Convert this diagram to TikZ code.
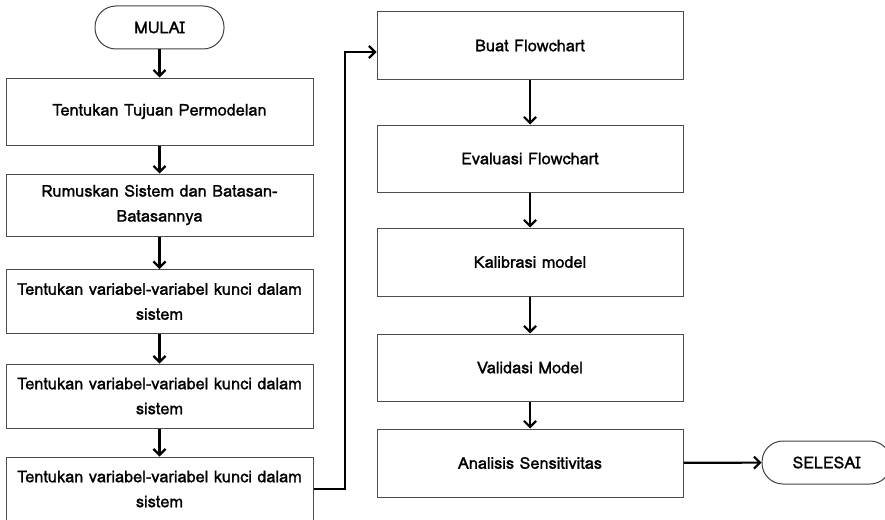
\documentclass[tikz,border=0pt]{standalone}
\usepackage{fontspec}
\setmainfont{Loma}[FakeBold=1.2]
\usetikzlibrary{arrows.meta,calc}
\begin{document}
\begin{tikzpicture}[x=1pt,y=-1pt,
  txt/.style={font=\fontsize{16.3}{25}\selectfont},
  box/.style={txt,draw=black!70,line width=1pt,fill=white,minimum width=307pt,align=center,inner sep=0pt},
  rbox/.style={txt,draw=black!70,line width=1pt,fill=white,minimum width=306pt,minimum height=67pt,inner sep=0pt},
  term/.style={draw=black!75,line width=1pt,rounded corners=21pt,minimum width=129pt,minimum height=43pt,inner sep=0pt,font=\fontsize{16.3}{18}\selectfont},
  arr/.style={line width=2.2pt,-{Straight Barb[length=6pt,width=12pt,line width=2.2pt]}},
  conn/.style={line width=2.2pt,-{Straight Barb[length=6pt,width=12pt,line width=2.2pt]}}
]
\useasboundingbox (0,0) rectangle (885,519);
\clip (0,0) rectangle (885,519);
% left column
\node[term] (mulai) at (159.5,27.5) {MULAI};
\node[box,minimum height=67pt] (b1) at (159.5,111.5) {Tentukan Tujuan Permodelan};
\node[box,minimum height=62pt] (b2) at (159.5,205) {Rumuskan Sistem dan Batasan-\\Batasannya};
\node[box,minimum height=64pt] (b3) at (159.5,301.5) {Tentukan variabel-variabel kunci dalam\\sistem};
\node[box,minimum height=64pt] (b4) at (159.5,396) {Tentukan variabel-variabel kunci dalam\\sistem};
\node[box,minimum height=64pt] (b5) at (159.5,489) {Tentukan variabel-variabel kunci dalam\\sistem};
% right column
\node[rbox] (r1) at (530,45.5) {Buat Flowchart};
\node[rbox] (r2) at (530,158.5) {Evaluasi Flowchart};
\node[rbox,minimum height=68pt] (r3) at (530,262) {Kalibrasi model};
\node[rbox] (r4) at (530,367.5) {Validasi Model};
\node[rbox,minimum height=68pt] (r5) at (530,463) {Analisis Sensitivitas};
\node[term] (selesai) at (826.5,462.5) {SELESAI};
% connectors
\draw[arr] (mulai) -- (b1);
\draw[arr] (b1) -- (b2);
\draw[arr] (b2) -- (b3);
\draw[arr] (b3) -- (b4);
\draw[arr] (b4) -- (b5);
\coordinate (turnx) at (345,0);
\draw[conn] (b5.east) -| (turnx |- 0,52) -- ([yshift=-6.5pt]r1.west);
\draw[arr] (r1) -- (r2);
\draw[arr] (r2) -- (r3);
\draw[arr] (r3) -- (r4);
\draw[arr] (r4) -- (r5);
\draw[arr] (r5) -- (selesai);
\end{tikzpicture}
\end{document}
